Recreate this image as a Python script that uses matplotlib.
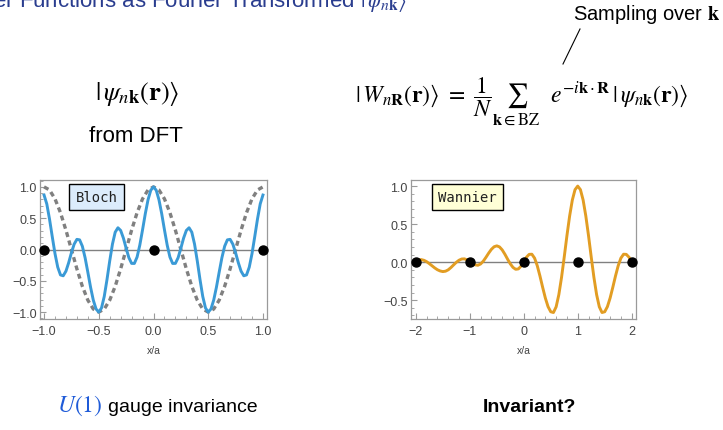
import numpy as np
import matplotlib
matplotlib.use('Agg')
import matplotlib.pyplot as plt
import matplotlib.ticker as ticker
from matplotlib.lines import Line2D

plt.rcParams['font.family'] = ['Liberation Sans', 'DejaVu Sans']
plt.rcParams['mathtext.fontset'] = 'stix'

bloch_x = np.linspace(-1.0, 1.0, 81)
bloch_y = [0.870, 0.728, 0.485, 0.205, -0.066, -0.282, -0.406, -0.420, -0.346, -0.211,
           -0.052, 0.085, 0.162, 0.154, 0.052, -0.131, -0.362, -0.602, -0.809, -0.950,
           -1.000, -0.934, -0.750, -0.481, -0.183, 0.086, 0.276, 0.347, 0.304, 0.182,
           0.020, -0.131, -0.222, -0.223, -0.120, 0.071, 0.315, 0.571, 0.794, 0.946,
           1.000,
           0.946, 0.794, 0.571, 0.315, 0.071, -0.120, -0.223, -0.222, -0.131, 0.020,
           0.182, 0.304, 0.347, 0.276, 0.086, -0.183, -0.481, -0.750, -0.934, -1.000,
           -0.950, -0.809, -0.602, -0.362, -0.131, 0.052, 0.154, 0.162, 0.085, -0.052,
           -0.211, -0.346, -0.420, -0.406, -0.282, -0.066, 0.205, 0.485, 0.728, 0.870]

# dashed periodic part, step 0.05
cell_x = np.linspace(-1.0, 1.0, 41)
cell_y = [1.000, 0.951, 0.809, 0.588, 0.309, 0.000, -0.309, -0.588, -0.809, -0.951,
          -1.000, -0.951, -0.809, -0.588, -0.309, 0.000, 0.309, 0.588, 0.809, 0.951,
          1.000,
          0.951, 0.809, 0.588, 0.309, 0.000, -0.309, -0.588, -0.809, -0.951, -1.000,
          -0.951, -0.809, -0.588, -0.309, 0.000, 0.309, 0.588, 0.809, 0.951, 1.000]

bloch_sites = [-1, 0, 1]

# Wannier panel: x/a from -2 to 2 (step 0.05)
wannier_x = np.linspace(-2.0, 2.0, 81)
wannier_y = [0.020, 0.030, 0.034, 0.025, 0.007, -0.019, -0.047, -0.075, -0.099, -0.115,
             -0.123, -0.118, -0.100, -0.070, -0.035, -0.001, 0.026, 0.042, 0.044, 0.031,
             0.008, -0.017, -0.035, -0.040, -0.023, 0.014, 0.065, 0.120, 0.169, 0.203,
             0.215, 0.201, 0.162, 0.105, 0.040, -0.021, -0.068, -0.093, -0.088, -0.051,
             0.008, 0.066, 0.103, 0.105, 0.054, -0.046, -0.181, -0.330, -0.471, -0.584,
             -0.651, -0.661, -0.586, -0.426, -0.199, 0.069, 0.349, 0.607, 0.817, 0.953,
             1.000, 0.953, 0.817, 0.607, 0.349, 0.069, -0.199, -0.426, -0.586, -0.661,
             -0.651, -0.584, -0.471, -0.330, -0.181, -0.046, 0.054, 0.105, 0.103, 0.066,
             0.008]
wannier_sites = [-2, -1, 0, 1, 2]

W, H = 723, 431
fig = plt.figure(figsize=(W / 100, H / 100), dpi=100)

frame = '#9a9a9a'
tick_label = '#444444'


def style(ax):
    for s in ax.spines.values():
        s.set_color(frame)
        s.set_linewidth(0.9)
    ax.tick_params(which='both', direction='in', color=frame, labelcolor=tick_label,
                   labelsize=9, top=False, right=False)
    ax.tick_params(which='major', length=4, width=0.8)
    ax.tick_params(which='minor', length=2, width=0.6)
    ax.tick_params(axis='y', pad=2.5)
    ax.tick_params(axis='x', pad=4)
    ax.axhline(0, color='#808080', lw=1.0, zorder=1)
    ax.set_xlabel('x/a', fontsize=7.5, color=tick_label, labelpad=6)
    ax.yaxis.set_major_formatter(ticker.FuncFormatter(
        lambda v, p: ('%.1f' % v).replace('-', '\u2212')))


# left panel
ax_b = fig.add_axes([40 / W, 1 - 320 / H, 227 / W, 139 / H])
ax_b.plot(cell_x, cell_y, color='#808080', lw=2.4, dashes=(1.5, 1.1), zorder=2)
ax_b.plot(bloch_x, bloch_y, color='#3a9ad6', lw=2.1, zorder=3)
ax_b.plot(bloch_sites, np.zeros(len(bloch_sites)), 'o', color='black', ms=6.5,
          clip_on=False, zorder=5)
ax_b.set_xlim(-1.037, 1.037)
ax_b.set_ylim(-1.11, 1.11)
ax_b.xaxis.set_major_locator(ticker.MultipleLocator(0.5))
ax_b.xaxis.set_minor_locator(ticker.MultipleLocator(0.1))
ax_b.yaxis.set_major_locator(ticker.MultipleLocator(0.5))
ax_b.yaxis.set_minor_locator(ticker.MultipleLocator(0.1))
style(ax_b)
ax_b.xaxis.set_major_formatter(ticker.FuncFormatter(
    lambda v, p: ('%.1f' % v).replace('-', '\u2212')))
ax_b.text(0.249, 0.878, 'Bloch', transform=ax_b.transAxes, ha='center', va='center',
          family='DejaVu Sans Mono', fontsize=10, color='#222222',
          bbox=dict(boxstyle='square,pad=0.45', fc='#dcecfc', ec='black', lw=1.0),
          zorder=6)

# right panel
ax_w = fig.add_axes([411 / W, 1 - 320 / H, 225 / W, 139 / H])
ax_w.plot(wannier_x, wannier_y, color='#e29d23', lw=2.1, zorder=3)
ax_w.plot(wannier_sites, np.zeros(len(wannier_sites)), 'o', color='black', ms=6.5,
          clip_on=False, zorder=5)
ax_w.set_xlim(-2.09, 2.08)
ax_w.set_ylim(-0.746, 1.08)
ax_w.xaxis.set_major_locator(ticker.MultipleLocator(1))
ax_w.xaxis.set_minor_locator(ticker.MultipleLocator(0.2))
ax_w.yaxis.set_major_locator(ticker.MultipleLocator(0.5))
ax_w.yaxis.set_minor_locator(ticker.MultipleLocator(0.1))
style(ax_w)
ax_w.xaxis.set_major_formatter(ticker.FuncFormatter(
    lambda v, p: ('%d' % round(v)).replace('-', '\u2212')))
ax_w.text(0.251, 0.878, 'Wannier', transform=ax_w.transAxes, ha='center', va='center',
          family='DejaVu Sans Mono', fontsize=10, color='#222222',
          bbox=dict(boxstyle='square,pad=0.45', fc='#ffffd6', ec='black', lw=1.0),
          zorder=6)

# texts (the title is cut off by the top edge, as in the slide)
fig.text(-69.6 / W, 1 - 7.5 / H,
         r'Wannier Functions as Fourier Transformed $|\,\psi_{n\mathbf{k}}\rangle$',
         color='#2a3d8f', fontsize=16, ha='left', va='baseline')
fig.text(137 / W, 1 - 100 / H, r'$|\,\psi_{n\mathbf{k}}(\mathbf{r})\rangle$',
         ha='center', va='baseline', fontsize=19)
fig.text(136 / W, 1 - 137 / H, 'from DFT', ha='center', va='center', fontsize=16)
fig.text(522 / W, 1 - 102 / H,
         r'$|\,W_{n\mathbf{R}}(\mathbf{r})\rangle\ =\ \dfrac{1}{N}\sum_{\mathbf{k}\in\mathrm{BZ}}'
         r'\ \ e^{-i\mathbf{k}\cdot\mathbf{R}}\,|\,\psi_{n\mathbf{k}}(\mathbf{r})\rangle$',
         ha='center', va='baseline', fontsize=17)
fig.text(720 / W, 1 - 15 / H, r'Sampling over $\mathbf{k}$', ha='right', va='center',
         fontsize=14.5)
fig.add_artist(Line2D([580 / W, 563 / W], [1 - 30 / H, 1 - 65 / H], color='black', lw=0.8))

fig.text(57 / W, 1 - 412 / H, r'$U(1)$', color='#1f5bd8', fontsize=17, ha='left',
         va='baseline')
fig.text(108 / W, 1 - 412 / H, 'gauge invariance', fontsize=14, ha='left', va='baseline')
fig.text(529 / W, 1 - 412 / H, 'Invariant?', fontsize=14, fontweight='bold',
         ha='center', va='baseline')

fig.savefig('out.png', dpi=100)
